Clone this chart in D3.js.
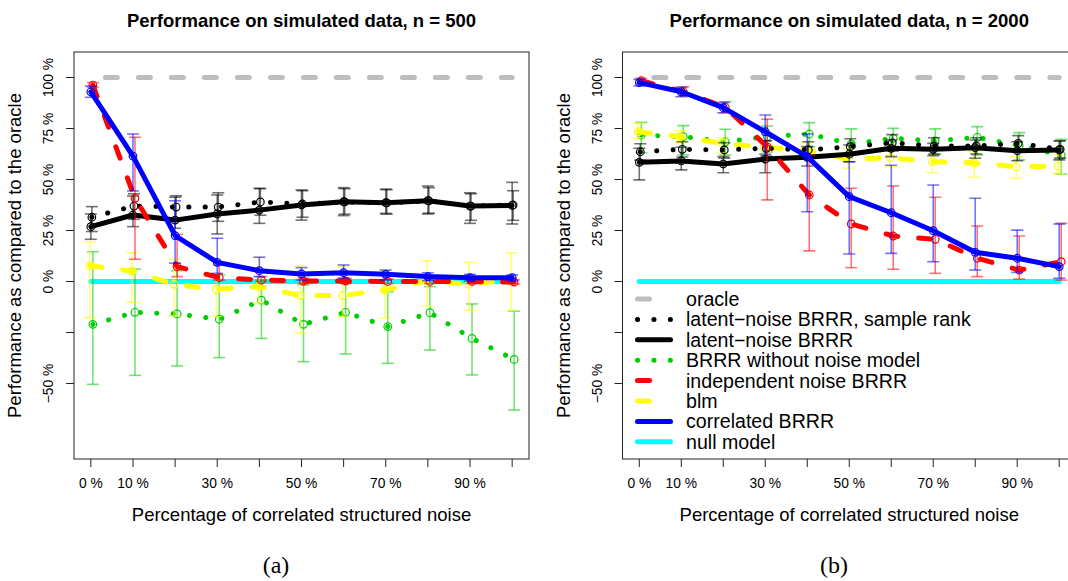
<!DOCTYPE html>
<html lang="en">
<head>
    <meta charset="UTF-8">
    <title>Performance on simulated data</title>
    <style>
        body {
            margin: 0;
            padding: 0;
            background: #fff;
        }
        svg {
            display: block;
            font-family: 'Liberation Sans', Arial, Helvetica, sans-serif;
        }
    </style>
</head>
<body>

<svg id="chart" width="1068" height="581"></svg>

<script src="https://d3js.org/d3.v7.min.js"></script>
<script>
    // x values (percentage of correlated structured noise)
    const xPct = [0, 10, 20, 30, 40, 50, 60, 70, 80, 90, 100];
    const xTickLabels = ["0 %", "10 %", "30 %", "50 %", "70 %", "90 %"];
    const xTickLabelAt = [0, 10, 30, 50, 70, 90];
    const yTicks = [-50, -25, 0, 25, 50, 75, 100];
    const yTickLabels = ["\u221250 %", "", "0 %", "25 %", "50 %", "75 %", "100 %"];

    const legendNames = ["oracle", "latent\u2212noise BRRR, sample rank", "latent\u2212noise BRRR",
        "BRRR without noise model", "independent noise BRRR", "blm", "correlated BRRR", "null model"];

    const oracle = [100, 100, 100, 100, 100, 100, 100, 100, 100, 100, 100];
    const nullModel = [0, 0, 0, 0, 0, 0, 0, 0, 0, 0, 0];

    // n = 500
    const rank500 = [31.5, 37, 36.5, 36.5, 39, 38, 39, 38.5, 39.5, 37, 37.5];
    const rank500Lo = [24.5, 30.5, 30, 29.5, 32.5, 31.5, 33, 33, 33.5, 30, 30];
    const rank500Hi = [36.7, 43, 42, 43.5, 45.5, 44.5, 45.5, 45, 46, 43, 44.5];
    const latent500 = [26.9, 32.6, 30.1, 33.1, 35.0, 37.5, 39.1, 38.6, 39.6, 37.0, 37.3];
    const latent500Lo = [20.7, 26.9, 26.1, 23.3, 28.5, 30.1, 32.3, 33.4, 33.1, 28.5, 28.2];
    const latent500Hi = [33.1, 41.9, 41.3, 42.4, 45.7, 44.9, 46.0, 45.3, 46.8, 43.5, 48.6];
    const noNoise500 = [-21.0, -15.1, -15.9, -18.5, -9.1, -21.0, -15.1, -22.1, -15.3, -27.9, -38.2];
    const noNoise500Lo = [-50.4, -46.0, -41.4, -37.3, -27.9, -39.3, -35.5, -40.1, -33.6, -45.8, -63.0];
    const noNoise500Hi = [14.6, 6.1, 5.3, 3.2, 0.7, -1.7, -0.9, -5.0, -2.5, -11.0, -14.5];
    const indep500 = [96.3, 40.8, 7.3, 1.9, 0.7, 0.2, 0.2, 0, 0, 0, -0.3];
    const indep500Lo = [95.2, 10.9, 2.4, 0.7, 0, -0.9, -0.9, -1, -1, -1, -1.2];
    const indep500Hi = [97.5, 70.7, 23.1, 8.1, 2.4, 1.6, 1.5, 1.2, 1.2, 1.0, 0.8];
    const blm500 = [7.8, 5.1, -1.4, -3.8, -2.5, -6.9, -6.9, -4.2, 0.4, -1.4, 1.1];
    const blm500Lo = [-17.7, -10.2, -16.8, -17.2, -10.7, -25.4, -17.2, -18.0, -11.9, -14.1, -14.3];
    const blm500Hi = [19.5, 14.1, 11.0, 3.2, 11.9, 7.6, 7.3, 5.6, 10.2, 9.4, 14.1];
    const corr500 = [93.0, 61.5, 22.5, 9.4, 5.3, 3.7, 4.3, 3.5, 2.4, 1.9, 1.9];
    const corr500Lo = [90.3, 44.4, 9.0, 4.0, 2.4, 0.7, 1.6, 0.7, 0.4, 0.2, 0.4];
    const corr500Hi = [95.8, 72.3, 39.6, 21.2, 11.9, 6.8, 8.1, 5.6, 4.3, 3.5, 3.2];

    // n = 2000
    const rank2000 = [63.6, 64.8, 64.5, 65.3, 64.5, 66.1, 68.0, 66.4, 66.5, 67.7, 64.8];
    const rank2000Lo = [59.5, 61.0, 60.5, 61.5, 60.5, 62.0, 64.0, 62.5, 62.5, 63.5, 60.5];
    const rank2000Hi = [67.5, 68.5, 68.0, 69.0, 68.5, 70.0, 72.0, 70.5, 70.5, 71.5, 69.0];
    const latent2000 = [58.4, 59.1, 57.6, 60.0, 60.9, 62.4, 65.3, 64.8, 65.6, 64.1, 64.5];
    const latent2000Lo = [49.8, 54.7, 53.3, 53.3, 56.6, 58.7, 61.2, 61.7, 60.4, 59.2, 59.6];
    const latent2000Hi = [65.3, 65.8, 61.2, 69.0, 66.1, 66.9, 69.4, 67.7, 69.4, 68.5, 68.9];
    const noNoise2000 = [71.8, 71.0, 68.5, 71.0, 72.3, 67.4, 70.2, 68.9, 70.7, 66.6, 62.0];
    const noNoise2000Lo = [63.1, 62.0, 62.0, 63.5, 66.1, 62.0, 64.1, 62.3, 62.0, 59.6, 52.7];
    const noNoise2000Hi = [78.0, 76.4, 74.6, 76.2, 77.9, 74.8, 75.1, 74.8, 75.9, 73.0, 69.7];
    const indep2000 = [98.4, 93.0, 85.4, 66.0, 42.4, 28.2, 22.3, 20.7, 11.4, 5.6, 9.7];
    const indep2000Lo = [96.8, 90.9, 82.7, 40.0, 15.0, 6.8, 6.0, 4.0, 2.4, 1.2, 0.7];
    const indep2000Hi = [99.6, 95.5, 88.1, 79.5, 62.0, 45.7, 46.8, 41.3, 27.2, 22.3, 28.5];
    const blm2000 = [73.4, 71.0, 67.7, 65.8, 64.5, 60.0, 60.7, 58.7, 58.2, 56.3, 56.6];
    const blm2000Lo = [70.2, 68.0, 62.8, 62.5, 61.2, 55.5, 56.3, 53.3, 51.1, 50.6, 53.0];
    const blm2000Hi = [77.5, 73.9, 70.2, 68.5, 68.0, 65.3, 66.9, 64.1, 63.6, 61.2, 62.0];
    const corr2000 = [97.5, 93.0, 85.2, 73.4, 61.2, 41.6, 33.7, 24.9, 14.3, 11.4, 7.3];
    const corr2000Lo = [95.8, 90.6, 82.7, 62.4, 34.2, 13.5, 13.8, 9.7, 5.6, 4.5, 1.6];
    const corr2000Hi = [99.1, 95.2, 87.7, 81.6, 72.3, 58.7, 57.0, 47.3, 40.8, 25.2, 28.2];

    // line styles: gray dashed, dotted, solid, dashed...
    const styles = {
        oracle:  { color: "#bebebe", dash: "12,21", offset: 18.5, err: null },
        nullM:   { color: "#00ffff", dash: null, err: null },
        noNoise: { color: "#00cd00", dash: "0.1,16.3", err: "#00cd00", dx: 2 },
        blm:     { color: "#ffff00", dash: "12,21", err: "#ffff00", dx: -1 },
        rank:    { color: "#000000", dash: "0.1,16.3", err: "#000000", dx: 1 },
        latent:  { color: "#000000", dash: null, err: "#000000", dx: 0 },
        indep:   { color: "#ff0000", dash: "12,21", err: "#ff0000", dx: 2 },
        corr:    { color: "#0000ff", dash: null, err: "#0000ff", dx: 0 }
    };
    const legendKeys = ["oracle", "rank", "latent", "noNoise", "indep", "blm", "corr", "nullM"];

    const panels = [
        {
            left: 74, right: 529, title: "Performance on simulated data, n = 500", tag: "(a)", tagX: 276,
            series: [
                { key: "oracle", v: oracle },
                { key: "nullM", v: nullModel },
                { key: "noNoise", v: noNoise500, lo: noNoise500Lo, hi: noNoise500Hi },
                { key: "blm", v: blm500, lo: blm500Lo, hi: blm500Hi },
                { key: "rank", v: rank500, lo: rank500Lo, hi: rank500Hi },
                { key: "latent", v: latent500, lo: latent500Lo, hi: latent500Hi },
                { key: "indep", v: indep500, lo: indep500Lo, hi: indep500Hi },
                { key: "corr", v: corr500, lo: corr500Lo, hi: corr500Hi }
            ]
        },
        {
            left: 622.5, right: 1076, title: "Performance on simulated data, n = 2000", tag: "(b)", tagX: 834,
            legend: true,
            series: [
                { key: "oracle", v: oracle },
                { key: "nullM", v: nullModel },
                { key: "noNoise", v: noNoise2000, lo: noNoise2000Lo, hi: noNoise2000Hi },
                { key: "blm", v: blm2000, lo: blm2000Lo, hi: blm2000Hi },
                { key: "rank", v: rank2000, lo: rank2000Lo, hi: rank2000Hi },
                { key: "latent", v: latent2000, lo: latent2000Lo, hi: latent2000Hi },
                { key: "indep", v: indep2000, lo: indep2000Lo, hi: indep2000Hi },
                { key: "corr", v: corr2000, lo: corr2000Lo, hi: corr2000Hi }
            ]
        }
    ];

    const svg = d3.select("#chart");
    const plotTop = 52, plotBottom = 459;
    const lw = 5;

    const y = d3.scaleLinear().domain([-87, 112.5]).range([plotBottom, plotTop]);

    panels.forEach(p => {
        const x = d3.scaleLinear().domain([-4, 104]).range([p.left, p.right]);
        const g = svg.append("g");
        const cx = (p.left + p.right) / 2;

        // clip to the plotting box
        const clipId = "clip" + p.tag.replace(/\W/g, "");
        svg.append("clipPath").attr("id", clipId)
            .append("rect").attr("x", p.left).attr("y", plotTop)
            .attr("width", p.right - p.left).attr("height", plotBottom - plotTop);
        const plot = g.append("g").attr("clip-path", "url(#" + clipId + ")");

        p.series.forEach(s => {
            const st = styles[s.key];
            const dx = st.dx || 0;
            const line = d3.line().x((d, i) => x(xPct[i]) + dx).y(d => y(d));

            // error bars first
            if (s.lo) {
                const eb = plot.append("g")
                    .attr("stroke", st.err)
                    .attr("stroke-opacity", 0.55)
                    .attr("stroke-width", 1.6)
                    .attr("fill", "none");
                s.v.forEach((d, i) => {
                    const xx = x(xPct[i]) + dx;
                    eb.append("line").attr("x1", xx).attr("x2", xx)
                        .attr("y1", y(s.lo[i])).attr("y2", y(s.hi[i]));
                    eb.append("line").attr("x1", xx - 6).attr("x2", xx + 6)
                        .attr("y1", y(s.lo[i])).attr("y2", y(s.lo[i]));
                    eb.append("line").attr("x1", xx - 6).attr("x2", xx + 6)
                        .attr("y1", y(s.hi[i])).attr("y2", y(s.hi[i]));
                });
            }

            const path = plot.append("path")
                .attr("d", line(s.v))
                .attr("fill", "none")
                .attr("stroke", st.color)
                .attr("stroke-width", lw)
                .attr("stroke-linecap", "round")
                .attr("stroke-linejoin", "round");
            if (st.dash) path.attr("stroke-dasharray", st.dash);
            if (st.offset) path.attr("stroke-dashoffset", st.offset);

            if (s.lo) {
                plot.append("g").selectAll("circle")
                    .data(s.v)
                    .join("circle")
                    .attr("cx", (d, i) => x(xPct[i]) + dx)
                    .attr("cy", d => y(d))
                    .attr("r", 3.8)
                    .attr("fill", "none")
                    .attr("stroke", st.color)
                    .attr("stroke-width", 1.2);
            }
        });

        // box
        g.append("rect")
            .attr("x", p.left).attr("y", plotTop)
            .attr("width", p.right - p.left).attr("height", plotBottom - plotTop)
            .attr("fill", "none").attr("stroke", "#222").attr("stroke-width", 1);

        // x axis
        const xAxis = g.append("g");
        xAxis.selectAll("line")
            .data(xPct)
            .join("line")
            .attr("x1", d => x(d)).attr("x2", d => x(d))
            .attr("y1", plotBottom).attr("y2", plotBottom + 8)
            .attr("stroke", "#222");
        xAxis.selectAll("text")
            .data(xTickLabelAt)
            .join("text")
            .attr("x", d => x(d)).attr("y", 488)
            .attr("text-anchor", "middle")
            .attr("font-size", 13.8)
            .text((d, i) => xTickLabels[i]);

        // y axis
        const yAxis = g.append("g");
        yAxis.selectAll("line")
            .data(yTicks)
            .join("line")
            .attr("x1", p.left - 8).attr("x2", p.left)
            .attr("y1", d => y(d)).attr("y2", d => y(d))
            .attr("stroke", "#222");
        yAxis.selectAll("text")
            .data(yTicks)
            .join("text")
            .attr("transform", d => "translate(" + (p.left - 21) + "," + y(d) + ") rotate(-90)")
            .attr("text-anchor", "middle")
            .attr("font-size", 13.8)
            .text((d, i) => yTickLabels[i]);

        // titles
        g.append("text")
            .attr("x", cx).attr("y", 26.6)
            .attr("text-anchor", "middle")
            .attr("font-size", 18.5)
            .attr("font-weight", "bold")
            .text(p.title);
        g.append("text")
            .attr("x", cx).attr("y", 520.5)
            .attr("text-anchor", "middle")
            .attr("font-size", 18.5)
            .text("Percentage of correlated structured noise");
        g.append("text")
            .attr("transform", "translate(" + (p.left - 52.7) + "," + ((plotTop + plotBottom) / 2) + ") rotate(-90)")
            .attr("text-anchor", "middle")
            .attr("font-size", 18.5)
            .text("Performance as compared to the oracle");
        g.append("text")
            .attr("x", p.tagX).attr("y", 573)
            .attr("text-anchor", "middle")
            .attr("font-family", "'Liberation Serif', 'DejaVu Serif', serif")
            .attr("font-size", 24)
            .text(p.tag);

        // legend
        if (p.legend) {
            const lg = g.append("g");
            legendKeys.forEach((k, i) => {
                const st = styles[k];
                const ly = 299 + i * 20.4;
                const seg = lg.append("line")
                    .attr("x1", p.left + 15).attr("x2", p.left + 48)
                    .attr("y1", ly).attr("y2", ly)
                    .attr("stroke", st.color)
                    .attr("stroke-width", lw)
                    .attr("stroke-linecap", "round");
                if (st.dash) seg.attr("stroke-dasharray", st.dash);
                lg.append("text")
                    .attr("x", p.left + 63.5).attr("y", ly + 7)
                    .attr("font-size", 19.6)
                    .text(legendNames[i]);
            });
        }
    });
</script>

</body>
</html>
